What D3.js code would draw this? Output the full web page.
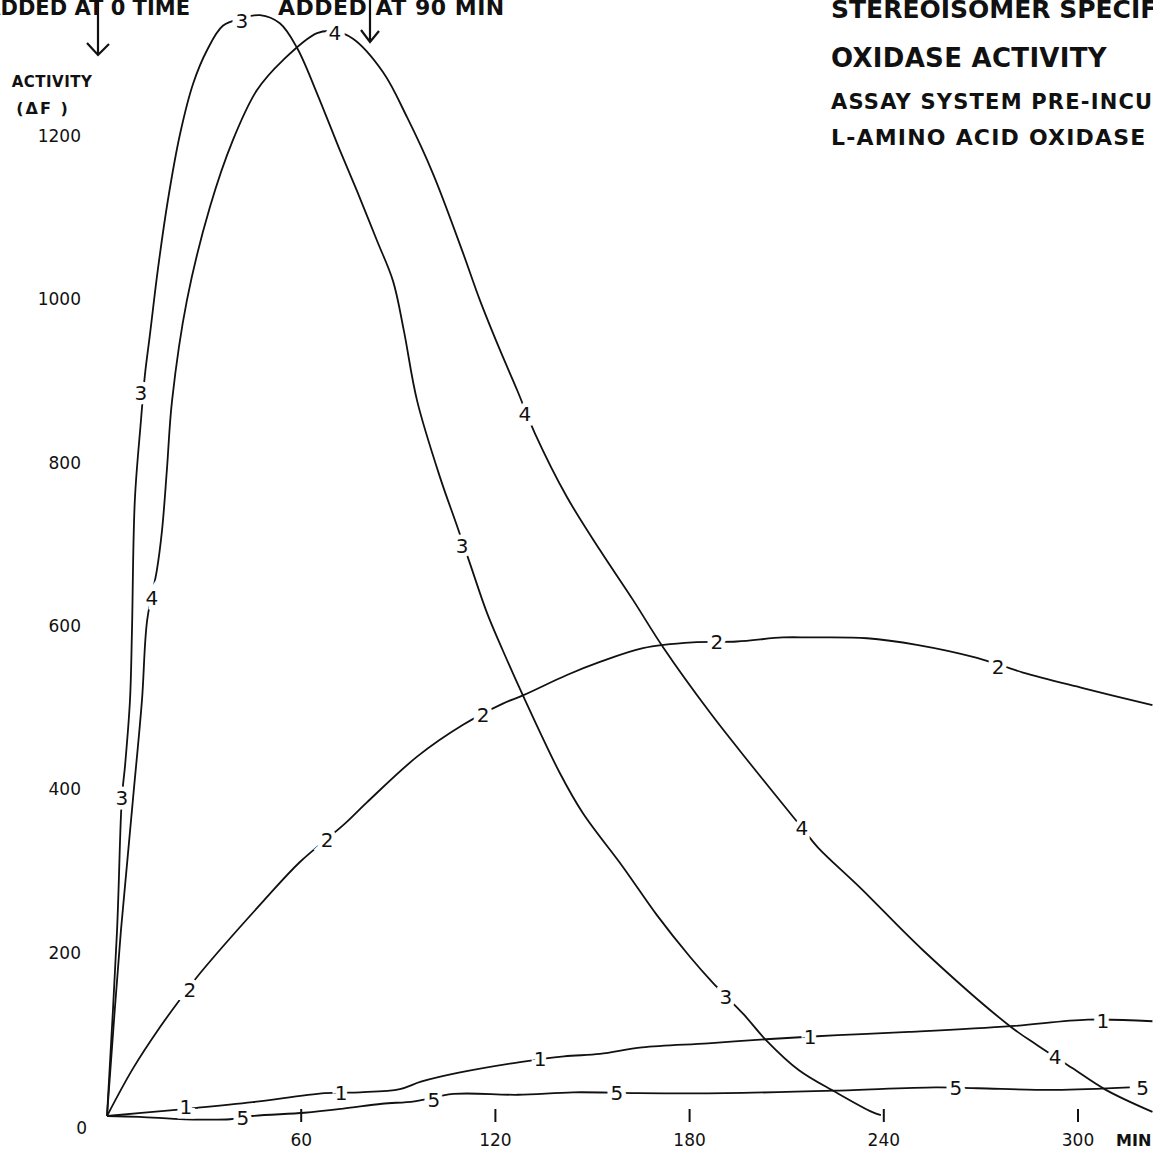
<html>
<head>
    <script src="https://d3js.org/d3.v7.min.js"></script>
    <style>
        body { margin: 0; background: #fff; }
        text { font-family: "DejaVu Sans", sans-serif; fill: #111; }
    </style>
</head>
<body>
    <svg id="s" width="1153" height="1150"></svg>
    <script>
        // time (min) and activity (delta F)
        const t1 = [0, 19.5, 27.8, 45, 67.3, 78.2, 90.5, 97, 108.7, 127.6, 141.2, 152.3, 165.3, 185.7, 203.6, 225.8, 247.8, 279.3, 303.1, 323]
        const v1 = [0, 7, 10, 17, 28, 29, 33, 42, 53, 66, 73, 76, 84, 89, 94, 99, 103, 110, 118, 116]

        const t2 = [0, 8, 16.4, 24.7, 29, 48.5, 59.6, 73.5, 80.3, 95.8, 110, 122.3, 128.5, 142.1, 152.3, 165.6, 181, 194.6, 208.8, 217.2, 234.8, 250.2, 268.8, 283, 301.5, 323]
        const v2 = [0, 58, 109, 154, 176, 264, 311, 358, 384, 440, 479, 505, 515, 540, 556, 573, 580, 581, 586, 586, 585, 577, 561, 543, 524, 503]

        const t3 = [0, 3.1, 4.6, 5.6, 7.1, 7.7, 8.6, 10.5, 11.7, 13.3, 15.8, 18.8, 22.6, 26.6, 30.9, 35.8, 41.7, 47.3, 53.4, 58.7, 64.9, 72, 77.2, 83.4, 88.4, 91.7, 95.8, 102.9, 108.1, 112.1, 117.4, 122.3, 128.5, 139.9, 147, 159.4, 169.9, 180.1, 187.2, 196.8, 203.6, 213.8, 225.2, 236.3, 239.1]
        const v3 = [0, 227, 390, 430, 509, 591, 754, 852, 907, 958, 1039, 1121, 1203, 1264, 1305, 1335, 1344, 1348, 1338, 1308, 1252, 1182, 1133, 1072, 1022, 962, 876, 782, 723, 677, 616, 570, 515, 420, 371, 305, 246, 195, 163, 124, 93, 56, 29, 5, 1]

        const t4 = [0, 4.3, 8, 10.8, 12.4, 15.4, 17, 18.5, 20.1, 24.7, 31.8, 38.9, 46.3, 54.4, 64.9, 70.4, 76, 85.3, 92.7, 100.7, 109.7, 115.2, 121.4, 126.7, 132.2, 142.1, 152.3, 162.5, 171.8, 186.3, 198.6, 214.7, 219.6, 232.6, 252.1, 279.3, 287.3, 298.1, 308.6, 323]
        const v4 = [0, 227, 387, 509, 607, 668, 717, 791, 876, 999, 1113, 1195, 1256, 1293, 1326, 1328, 1319, 1278, 1223, 1154, 1060, 999, 938, 889, 836, 758, 693, 632, 574, 494, 432, 353, 329, 280, 203, 109, 87, 59, 32, 5]

        const t5 = [0, 10, 24, 38, 45, 61, 73, 85, 95, 107, 127, 144, 164, 191, 225, 256, 269, 293, 316]
        const v5 = [0, -1, -4, -4, 0, 4, 9, 15, 18, 27, 26, 29, 28, 28, 31, 35, 34, 32, 35]

        // where the curve numbers sit along each line [time, activity]
        const lab1 = [[24.4, 11], [72.3, 29], [133.8, 70], [217.2, 97], [307.7, 117]]
        const lab2 = [[25.6, 154], [68, 338], [116.2, 491], [188.4, 581], [275.3, 550]]
        const lab3 = [[4.6, 390], [10.5, 885], [41.7, 1341], [109.7, 698], [191.2, 146]]
        const lab4 = [[13.9, 635], [70.4, 1326], [129.1, 860], [214.7, 353], [292.9, 72]]
        const lab5 = [[42, -2], [101, 20], [157.5, 28], [262.3, 35], [320, 35]]

        const xTicks = [60, 120, 180, 240, 300]
        const yTicks = [0, 200, 400, 600, 800, 1000, 1200]

        const series = [
            { name: "1", pts: d3.zip(t1, v1), labels: lab1 },
            { name: "2", pts: d3.zip(t2, v2), labels: lab2 },
            { name: "3", pts: d3.zip(t3, v3), labels: lab3 },
            { name: "4", pts: d3.zip(t4, v4), labels: lab4 },
            { name: "5", pts: d3.zip(t5, v5), labels: lab5 }
        ]

        const svg = d3.select("svg")

        const x = d3.scaleLinear().domain([0, 300]).range([107, 1078])
        const y = d3.scaleLinear().domain([0, 1200]).range([1116, 136])

        const line = d3.line()
            .x(d => x(d[0]))
            .y(d => y(d[1]))
            .curve(d3.curveCatmullRom.alpha(0.5))

        // curves
        svg.selectAll("path.curve")
            .data(series)
            .enter().append("path")
            .attr("class", "curve")
            .attr("d", d => line(d.pts))
            .attr("fill", "none")
            .attr("stroke", "#111")
            .attr("stroke-width", 1.8)

        // curve numbers, white halo breaks the line
        series.forEach(s => {
            svg.selectAll(null)
                .data(s.labels)
                .enter().append("text")
                .attr("x", d => x(d[0]))
                .attr("y", d => y(d[1]))
                .attr("dy", "0.36em")
                .attr("text-anchor", "middle")
                .attr("font-size", "20px")
                .attr("stroke", "#fff")
                .attr("stroke-width", 9)
                .attr("paint-order", "stroke")
                .text(s.name)
        })

        // x ticks, no axis line
        svg.selectAll("line.xt")
            .data(xTicks)
            .enter().append("line")
            .attr("x1", d => x(d)).attr("x2", d => x(d))
            .attr("y1", 1109).attr("y2", 1122)
            .attr("stroke", "#111")
            .attr("stroke-width", 2)

        svg.selectAll("text.xl")
            .data(xTicks)
            .enter().append("text")
            .attr("x", d => x(d))
            .attr("y", 1146)
            .attr("text-anchor", "middle")
            .attr("font-size", "17px")
            .text(d => d)

        svg.append("text")
            .attr("x", 1116).attr("y", 1146)
            .attr("font-size", "16px")
            .attr("font-weight", "bold")
            .text("MIN")

        // y labels
        svg.selectAll("text.yl")
            .data(yTicks)
            .enter().append("text")
            .attr("x", d => d === 0 ? 87 : 81)
            .attr("y", d => y(d) + (d === 0 ? 12 : 0))
            .attr("dy", "0.36em")
            .attr("text-anchor", "end")
            .attr("font-size", "17px")
            .text(d => d)

        svg.append("text")
            .attr("x", 52).attr("y", 87)
            .attr("text-anchor", "middle")
            .attr("font-size", "15px")
            .attr("font-weight", "bold")
            .attr("letter-spacing", "0.5")
            .text("ACTIVITY")

        svg.append("text")
            .attr("x", 43).attr("y", 114)
            .attr("text-anchor", "middle")
            .attr("font-size", "16px")
            .attr("font-weight", "bold")
            .attr("letter-spacing", "2")
            .text("(ΔF )")

        // titles at right
        const titles = [
            { t: "STEREOISOMER SPECIFICITY OF L-AMINO ACID", y: 18, size: 25, ls: 0 },
            { t: "OXIDASE ACTIVITY", y: 67, size: 26, ls: 0.3 },
            { t: "ASSAY SYSTEM PRE-INCUBATED", y: 109, size: 21, ls: 1.2 },
            { t: "L-AMINO ACID OXIDASE", y: 145, size: 22, ls: 1.2 }
        ]
        svg.selectAll("text.title")
            .data(titles)
            .enter().append("text")
            .attr("x", 831)
            .attr("y", d => d.y)
            .attr("font-size", d => d.size + "px")
            .attr("font-weight", "bold")
            .attr("letter-spacing", d => d.ls)
            .text(d => d.t)

        // annotations at top
        svg.append("text")
            .attr("x", 190).attr("y", 15)
            .attr("text-anchor", "end")
            .attr("font-size", "21px")
            .attr("font-weight", "bold")
            .text("ADDED AT 0 TIME")

        svg.append("text")
            .attr("x", 278).attr("y", 15)
            .attr("font-size", "22px")
            .attr("font-weight", "bold")
            .attr("letter-spacing", "0.5")
            .text("ADDED AT 90 MIN")

        const arrows = [
            { x: 98, y: 55, w: 11 },
            { x: 370, y: 42, w: 9 }
        ]
        arrows.forEach(a => {
            svg.append("path")
                .attr("d", `M${a.x},-2 L${a.x},${a.y} M${a.x - a.w},${a.y - 12} L${a.x},${a.y} L${a.x + a.w},${a.y - 11}`)
                .attr("fill", "none")
                .attr("stroke", "#111")
                .attr("stroke-width", 2.2)
        })
    </script>
</body>
</html>
